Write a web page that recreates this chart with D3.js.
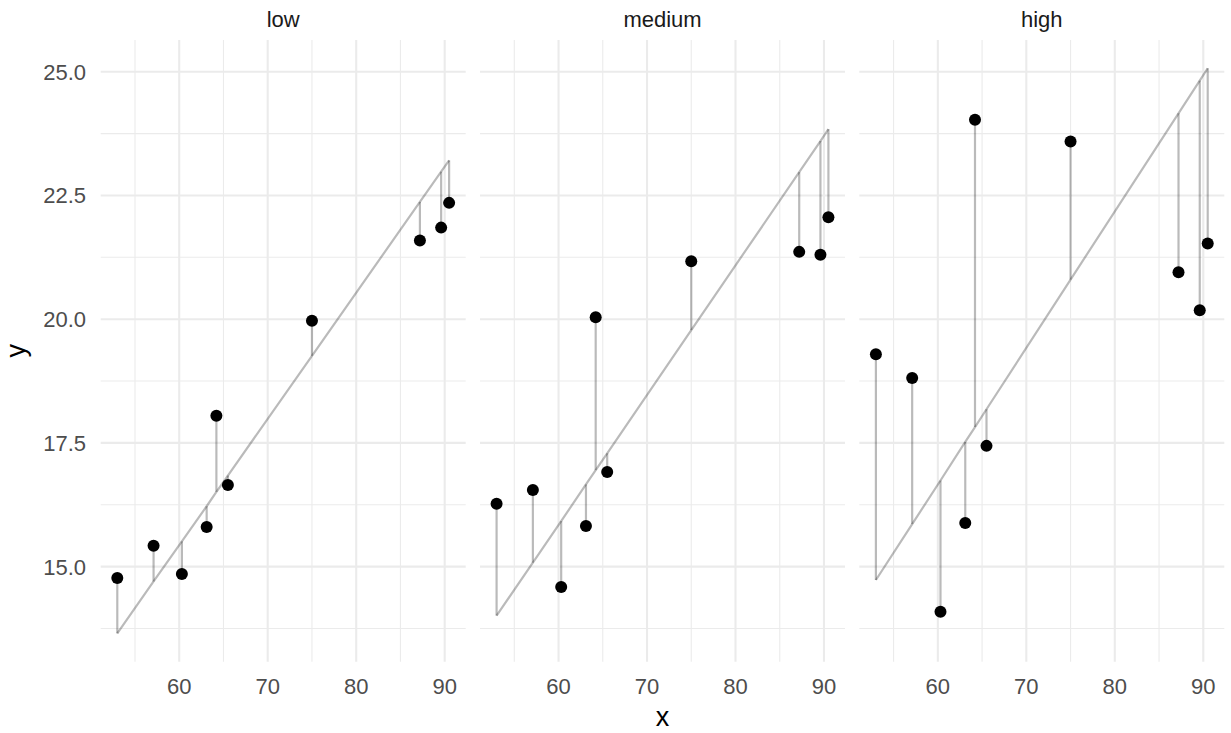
<!DOCTYPE html>
<html>
<head>
<meta charset="utf-8">
<script src="https://cdn.jsdelivr.net/npm/d3@7"></script>
<style>
  body { margin: 0; background: #fff; }
  text { font-family: "Liberation Sans", Arial, sans-serif; }
</style>
</head>
<body>
<svg id="chart" width="1231" height="733"></svg>
<script>
const panelNames = ['low', 'medium', 'high'];
const xValues = [53.0, 57.1, 60.3, 63.1, 64.2, 65.5, 75.0, 87.2, 89.6, 90.5];

const yLow = [14.77, 15.42, 14.85, 15.80, 18.05, 16.65, 19.97, 21.59, 21.85, 22.35];
const yMedium = [16.27, 16.55, 14.59, 15.82, 20.04, 16.91, 21.17, 21.36, 21.30, 22.06];
const yHigh = [19.29, 18.81, 14.09, 15.88, 24.03, 17.44, 23.59, 20.95, 20.18, 21.53];

// fitted values (line drawn through these, segments from point to line)
const fitLow = [13.65, 14.70, 15.51, 16.22, 16.51, 16.84, 19.26, 22.37, 22.98, 23.21];
const fitMedium = [14.01, 15.08, 15.92, 16.66, 16.95, 17.29, 19.78, 22.97, 23.60, 23.84];
const fitHigh = [14.73, 15.86, 16.74, 17.52, 17.82, 18.18, 20.80, 24.16, 24.82, 25.07];

const xTicks = [60, 70, 80, 90];
const xMinor = [55, 65, 75, 85];
const yTicks = [15, 17.5, 20, 22.5, 25];
const yMinor = [13.75, 16.25, 18.75, 21.25, 23.75];

const panelY = { low: yLow, medium: yMedium, high: yHigh };
const panelFit = { low: fitLow, medium: fitMedium, high: fitHigh };

const svg = d3.select('#chart');
const plotTop = 40, plotBottom = 661.7;
const panelW = 365, panelGap = 14.3, left0 = 100.7;

// shared scales with ggplot-style 5% expansion
const xExt = d3.extent(xValues);
const xPad = (xExt[1] - xExt[0]) * 0.05;
const allY = [].concat(yLow, yMedium, yHigh, fitLow, fitMedium, fitHigh);
const yExt = d3.extent(allY);
const yPad = (yExt[1] - yExt[0]) * 0.05;

const y = d3.scaleLinear().domain([yExt[0] - yPad, yExt[1] + yPad]).range([plotBottom, plotTop]);

panelNames.forEach((name, pi) => {
  const px = left0 + pi * (panelW + panelGap);
  const x = d3.scaleLinear().domain([xExt[0] - xPad, xExt[1] + xPad]).range([px, px + panelW]);
  const g = svg.append('g');

  // minor grid
  g.selectAll('.xminor').data(xMinor).join('line')
    .attr('x1', d => x(d)).attr('x2', d => x(d)).attr('y1', plotTop).attr('y2', plotBottom)
    .attr('stroke', '#EBEBEB').attr('stroke-width', 1.1);
  g.selectAll('.yminor').data(yMinor).join('line')
    .attr('x1', px).attr('x2', px + panelW).attr('y1', d => y(d)).attr('y2', d => y(d))
    .attr('stroke', '#EBEBEB').attr('stroke-width', 1.1);
  // major grid
  g.selectAll('.xmajor').data(xTicks).join('line')
    .attr('x1', d => x(d)).attr('x2', d => x(d)).attr('y1', plotTop).attr('y2', plotBottom)
    .attr('stroke', '#EBEBEB').attr('stroke-width', 2.1);
  g.selectAll('.ymajor').data(yTicks).join('line')
    .attr('x1', px).attr('x2', px + panelW).attr('y1', d => y(d)).attr('y2', d => y(d))
    .attr('stroke', '#EBEBEB').attr('stroke-width', 2.1);

  // x tick labels
  g.selectAll('.xlab').data(xTicks).join('text')
    .attr('x', d => x(d)).attr('y', 694)
    .attr('text-anchor', 'middle').attr('font-size', '22px').attr('fill', '#4D4D4D')
    .text(d => d);

  // strip title
  g.append('text')
    .attr('x', px + panelW / 2).attr('y', 26.5)
    .attr('text-anchor', 'middle').attr('font-size', '22px').attr('fill', '#1A1A1A')
    .text(name);

  const ys = panelY[name];
  const fit = panelFit[name];
  const rows = xValues.map((xv, i) => ({ x: xv, y: ys[i], fit: fit[i] }));

  // residual segments
  g.selectAll('.seg').data(rows).join('line')
    .attr('x1', d => x(d.x)).attr('x2', d => x(d.x))
    .attr('y1', d => y(d.y)).attr('y2', d => y(d.fit))
    .attr('stroke', '#000').attr('stroke-opacity', 0.27).attr('stroke-width', 2.2);

  // fitted line
  g.append('path').datum(rows)
    .attr('d', d3.line().x(d => x(d.x)).y(d => y(d.fit)))
    .attr('fill', 'none').attr('stroke', '#000').attr('stroke-opacity', 0.27).attr('stroke-width', 2.2);

  // points
  g.selectAll('.pt').data(rows).join('circle')
    .attr('cx', d => x(d.x)).attr('cy', d => y(d.y)).attr('r', 6)
    .attr('fill', '#000');
});

// y tick labels
svg.append('g').selectAll('text').data(yTicks).join('text')
  .attr('x', 86).attr('y', d => y(d)).attr('dy', '0.36em')
  .attr('text-anchor', 'end').attr('font-size', '22px').attr('fill', '#4D4D4D')
  .text(d => d3.format('.1f')(d));

// axis titles
svg.append('text')
  .attr('x', left0 + (3 * panelW + 2 * panelGap) / 2).attr('y', 726)
  .attr('text-anchor', 'middle').attr('font-size', '27px').attr('fill', '#000')
  .text('x');
svg.append('text')
  .attr('transform', `translate(25, ${(plotTop + plotBottom) / 2}) rotate(-90)`)
  .attr('text-anchor', 'middle').attr('font-size', '27px').attr('fill', '#000')
  .text('y');
</script>
</body>
</html>
